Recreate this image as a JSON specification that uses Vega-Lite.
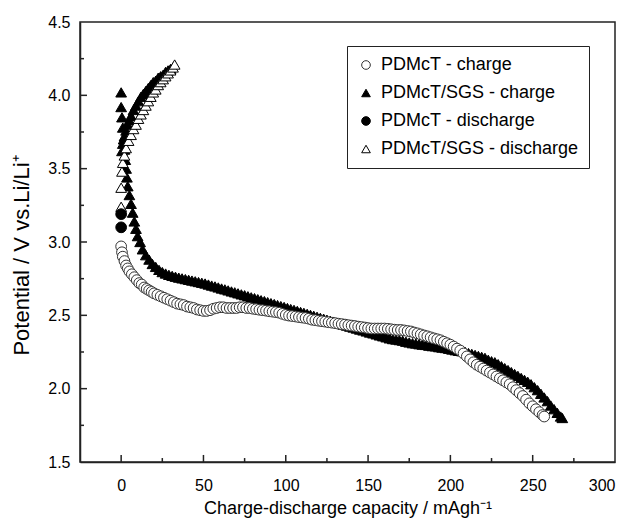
{
  "$schema": "https://vega.github.io/schema/vega-lite/v6.json",
  "width": 535,
  "height": 440,
  "autosize": {"type": "none"},
  "padding": {"left": 80, "top": 22, "right": 19, "bottom": 57},
  "background": "white",
  "config": {
    "font": "Liberation Sans",
    "view": {"stroke": "#222222", "strokeWidth": 1.5},
    "axis": {
      "domainColor": "#222222",
      "domainWidth": 1.5,
      "grid": false,
      "labelFont": "Liberation Sans",
      "labelFontSize": 16,
      "labelColor": "black",
      "titleFont": "Liberation Sans",
      "titleFontSize": 18,
      "titleFontWeight": "normal",
      "titleColor": "black"
    },
    "legend": {
      "labelFont": "Liberation Sans",
      "labelFontSize": 18,
      "labelColor": "black",
      "labelLimit": 0
    }
  },
  "datasets": {
    "curves": [
      {"series": "PDMcT/SGS - charge", "capacity": 0, "potential": 4.02},
      {"series": "PDMcT/SGS - charge", "capacity": 0, "potential": 3.92},
      {"series": "PDMcT/SGS - charge", "capacity": 0.5, "potential": 3.85},
      {"series": "PDMcT/SGS - charge", "capacity": 1, "potential": 3.78},
      {"series": "PDMcT/SGS - charge", "capacity": 1.5, "potential": 3.7},
      {"series": "PDMcT/SGS - charge", "capacity": 2, "potential": 3.63},
      {"series": "PDMcT/SGS - charge", "capacity": 2.5, "potential": 3.56},
      {"series": "PDMcT/SGS - charge", "capacity": 3, "potential": 3.5},
      {"series": "PDMcT/SGS - charge", "capacity": 3.5, "potential": 3.44},
      {"series": "PDMcT/SGS - charge", "capacity": 4, "potential": 3.38},
      {"series": "PDMcT/SGS - charge", "capacity": 5, "potential": 3.32},
      {"series": "PDMcT/SGS - charge", "capacity": 6, "potential": 3.26},
      {"series": "PDMcT/SGS - charge", "capacity": 7, "potential": 3.2},
      {"series": "PDMcT/SGS - charge", "capacity": 8, "potential": 3.14},
      {"series": "PDMcT/SGS - charge", "capacity": 9, "potential": 3.09},
      {"series": "PDMcT/SGS - charge", "capacity": 10, "potential": 3.04},
      {"series": "PDMcT/SGS - charge", "capacity": 11.5, "potential": 3.0},
      {"series": "PDMcT/SGS - charge", "capacity": 13, "potential": 2.95},
      {"series": "PDMcT/SGS - charge", "capacity": 15, "potential": 2.91},
      {"series": "PDMcT/SGS - charge", "capacity": 17, "potential": 2.88},
      {"series": "PDMcT/SGS - charge", "capacity": 19, "potential": 2.85},
      {"series": "PDMcT/SGS - charge", "capacity": 21, "potential": 2.83},
      {"series": "PDMcT/SGS - charge", "capacity": 23, "potential": 2.81},
      {"series": "PDMcT/SGS - charge", "capacity": 25, "potential": 2.795},
      {"series": "PDMcT/SGS - charge", "capacity": 27, "potential": 2.785},
      {"series": "PDMcT/SGS - charge", "capacity": 29, "potential": 2.776},
      {"series": "PDMcT/SGS - charge", "capacity": 31, "potential": 2.769},
      {"series": "PDMcT/SGS - charge", "capacity": 33, "potential": 2.763},
      {"series": "PDMcT/SGS - charge", "capacity": 35, "potential": 2.757},
      {"series": "PDMcT/SGS - charge", "capacity": 37, "potential": 2.752},
      {"series": "PDMcT/SGS - charge", "capacity": 39, "potential": 2.747},
      {"series": "PDMcT/SGS - charge", "capacity": 41, "potential": 2.742},
      {"series": "PDMcT/SGS - charge", "capacity": 43, "potential": 2.737},
      {"series": "PDMcT/SGS - charge", "capacity": 45, "potential": 2.732},
      {"series": "PDMcT/SGS - charge", "capacity": 47, "potential": 2.727},
      {"series": "PDMcT/SGS - charge", "capacity": 49, "potential": 2.722},
      {"series": "PDMcT/SGS - charge", "capacity": 51, "potential": 2.717},
      {"series": "PDMcT/SGS - charge", "capacity": 53, "potential": 2.71},
      {"series": "PDMcT/SGS - charge", "capacity": 55, "potential": 2.703},
      {"series": "PDMcT/SGS - charge", "capacity": 57, "potential": 2.697},
      {"series": "PDMcT/SGS - charge", "capacity": 59, "potential": 2.69},
      {"series": "PDMcT/SGS - charge", "capacity": 61, "potential": 2.683},
      {"series": "PDMcT/SGS - charge", "capacity": 63, "potential": 2.677},
      {"series": "PDMcT/SGS - charge", "capacity": 65, "potential": 2.67},
      {"series": "PDMcT/SGS - charge", "capacity": 67, "potential": 2.663},
      {"series": "PDMcT/SGS - charge", "capacity": 69, "potential": 2.657},
      {"series": "PDMcT/SGS - charge", "capacity": 71, "potential": 2.65},
      {"series": "PDMcT/SGS - charge", "capacity": 73, "potential": 2.643},
      {"series": "PDMcT/SGS - charge", "capacity": 75, "potential": 2.637},
      {"series": "PDMcT/SGS - charge", "capacity": 77, "potential": 2.63},
      {"series": "PDMcT/SGS - charge", "capacity": 79, "potential": 2.623},
      {"series": "PDMcT/SGS - charge", "capacity": 81, "potential": 2.617},
      {"series": "PDMcT/SGS - charge", "capacity": 83, "potential": 2.61},
      {"series": "PDMcT/SGS - charge", "capacity": 85, "potential": 2.603},
      {"series": "PDMcT/SGS - charge", "capacity": 87, "potential": 2.597},
      {"series": "PDMcT/SGS - charge", "capacity": 89, "potential": 2.59},
      {"series": "PDMcT/SGS - charge", "capacity": 91, "potential": 2.583},
      {"series": "PDMcT/SGS - charge", "capacity": 93, "potential": 2.577},
      {"series": "PDMcT/SGS - charge", "capacity": 95, "potential": 2.57},
      {"series": "PDMcT/SGS - charge", "capacity": 97, "potential": 2.563},
      {"series": "PDMcT/SGS - charge", "capacity": 99, "potential": 2.557},
      {"series": "PDMcT/SGS - charge", "capacity": 101, "potential": 2.55},
      {"series": "PDMcT/SGS - charge", "capacity": 103, "potential": 2.543},
      {"series": "PDMcT/SGS - charge", "capacity": 105, "potential": 2.537},
      {"series": "PDMcT/SGS - charge", "capacity": 107, "potential": 2.53},
      {"series": "PDMcT/SGS - charge", "capacity": 109, "potential": 2.523},
      {"series": "PDMcT/SGS - charge", "capacity": 111, "potential": 2.517},
      {"series": "PDMcT/SGS - charge", "capacity": 113, "potential": 2.51},
      {"series": "PDMcT/SGS - charge", "capacity": 115, "potential": 2.503},
      {"series": "PDMcT/SGS - charge", "capacity": 117, "potential": 2.497},
      {"series": "PDMcT/SGS - charge", "capacity": 119, "potential": 2.49},
      {"series": "PDMcT/SGS - charge", "capacity": 121, "potential": 2.483},
      {"series": "PDMcT/SGS - charge", "capacity": 123, "potential": 2.477},
      {"series": "PDMcT/SGS - charge", "capacity": 125, "potential": 2.47},
      {"series": "PDMcT/SGS - charge", "capacity": 127, "potential": 2.463},
      {"series": "PDMcT/SGS - charge", "capacity": 129, "potential": 2.457},
      {"series": "PDMcT/SGS - charge", "capacity": 131, "potential": 2.45},
      {"series": "PDMcT/SGS - charge", "capacity": 133, "potential": 2.443},
      {"series": "PDMcT/SGS - charge", "capacity": 135, "potential": 2.437},
      {"series": "PDMcT/SGS - charge", "capacity": 137, "potential": 2.43},
      {"series": "PDMcT/SGS - charge", "capacity": 139, "potential": 2.423},
      {"series": "PDMcT/SGS - charge", "capacity": 141, "potential": 2.417},
      {"series": "PDMcT/SGS - charge", "capacity": 143, "potential": 2.41},
      {"series": "PDMcT/SGS - charge", "capacity": 145, "potential": 2.403},
      {"series": "PDMcT/SGS - charge", "capacity": 147, "potential": 2.397},
      {"series": "PDMcT/SGS - charge", "capacity": 149, "potential": 2.39},
      {"series": "PDMcT/SGS - charge", "capacity": 151, "potential": 2.383},
      {"series": "PDMcT/SGS - charge", "capacity": 153, "potential": 2.377},
      {"series": "PDMcT/SGS - charge", "capacity": 155, "potential": 2.37},
      {"series": "PDMcT/SGS - charge", "capacity": 157, "potential": 2.363},
      {"series": "PDMcT/SGS - charge", "capacity": 159, "potential": 2.357},
      {"series": "PDMcT/SGS - charge", "capacity": 161, "potential": 2.35},
      {"series": "PDMcT/SGS - charge", "capacity": 163, "potential": 2.343},
      {"series": "PDMcT/SGS - charge", "capacity": 165, "potential": 2.338},
      {"series": "PDMcT/SGS - charge", "capacity": 167, "potential": 2.335},
      {"series": "PDMcT/SGS - charge", "capacity": 169, "potential": 2.331},
      {"series": "PDMcT/SGS - charge", "capacity": 171, "potential": 2.327},
      {"series": "PDMcT/SGS - charge", "capacity": 173, "potential": 2.32},
      {"series": "PDMcT/SGS - charge", "capacity": 175, "potential": 2.315},
      {"series": "PDMcT/SGS - charge", "capacity": 177, "potential": 2.31},
      {"series": "PDMcT/SGS - charge", "capacity": 179, "potential": 2.308},
      {"series": "PDMcT/SGS - charge", "capacity": 181, "potential": 2.303},
      {"series": "PDMcT/SGS - charge", "capacity": 183, "potential": 2.3},
      {"series": "PDMcT/SGS - charge", "capacity": 185, "potential": 2.298},
      {"series": "PDMcT/SGS - charge", "capacity": 187, "potential": 2.293},
      {"series": "PDMcT/SGS - charge", "capacity": 189, "potential": 2.29},
      {"series": "PDMcT/SGS - charge", "capacity": 191, "potential": 2.288},
      {"series": "PDMcT/SGS - charge", "capacity": 193, "potential": 2.283},
      {"series": "PDMcT/SGS - charge", "capacity": 195, "potential": 2.28},
      {"series": "PDMcT/SGS - charge", "capacity": 197, "potential": 2.277},
      {"series": "PDMcT/SGS - charge", "capacity": 199, "potential": 2.272},
      {"series": "PDMcT/SGS - charge", "capacity": 201, "potential": 2.267},
      {"series": "PDMcT/SGS - charge", "capacity": 203, "potential": 2.262},
      {"series": "PDMcT/SGS - charge", "capacity": 205, "potential": 2.258},
      {"series": "PDMcT/SGS - charge", "capacity": 207, "potential": 2.255},
      {"series": "PDMcT/SGS - charge", "capacity": 209, "potential": 2.25},
      {"series": "PDMcT/SGS - charge", "capacity": 211, "potential": 2.243},
      {"series": "PDMcT/SGS - charge", "capacity": 213, "potential": 2.237},
      {"series": "PDMcT/SGS - charge", "capacity": 215, "potential": 2.23},
      {"series": "PDMcT/SGS - charge", "capacity": 217, "potential": 2.223},
      {"series": "PDMcT/SGS - charge", "capacity": 219, "potential": 2.217},
      {"series": "PDMcT/SGS - charge", "capacity": 221, "potential": 2.21},
      {"series": "PDMcT/SGS - charge", "capacity": 223, "potential": 2.197},
      {"series": "PDMcT/SGS - charge", "capacity": 225, "potential": 2.187},
      {"series": "PDMcT/SGS - charge", "capacity": 227, "potential": 2.18},
      {"series": "PDMcT/SGS - charge", "capacity": 229, "potential": 2.167},
      {"series": "PDMcT/SGS - charge", "capacity": 231, "potential": 2.153},
      {"series": "PDMcT/SGS - charge", "capacity": 233, "potential": 2.14},
      {"series": "PDMcT/SGS - charge", "capacity": 235, "potential": 2.127},
      {"series": "PDMcT/SGS - charge", "capacity": 237, "potential": 2.113},
      {"series": "PDMcT/SGS - charge", "capacity": 239, "potential": 2.1},
      {"series": "PDMcT/SGS - charge", "capacity": 241, "potential": 2.087},
      {"series": "PDMcT/SGS - charge", "capacity": 243, "potential": 2.073},
      {"series": "PDMcT/SGS - charge", "capacity": 245, "potential": 2.06},
      {"series": "PDMcT/SGS - charge", "capacity": 247, "potential": 2.047},
      {"series": "PDMcT/SGS - charge", "capacity": 249, "potential": 2.03},
      {"series": "PDMcT/SGS - charge", "capacity": 251, "potential": 2.01},
      {"series": "PDMcT/SGS - charge", "capacity": 253, "potential": 1.99},
      {"series": "PDMcT/SGS - charge", "capacity": 255, "potential": 1.965},
      {"series": "PDMcT/SGS - charge", "capacity": 257, "potential": 1.94},
      {"series": "PDMcT/SGS - charge", "capacity": 259, "potential": 1.915},
      {"series": "PDMcT/SGS - charge", "capacity": 261, "potential": 1.885},
      {"series": "PDMcT/SGS - charge", "capacity": 263, "potential": 1.86},
      {"series": "PDMcT/SGS - charge", "capacity": 265, "potential": 1.835},
      {"series": "PDMcT/SGS - charge", "capacity": 267, "potential": 1.81},
      {"series": "PDMcT/SGS - charge", "capacity": 268, "potential": 1.8},
      {"series": "PDMcT/SGS - charge", "capacity": 0.5, "potential": 3.62},
      {"series": "PDMcT/SGS - charge", "capacity": 1, "potential": 3.67},
      {"series": "PDMcT/SGS - charge", "capacity": 2, "potential": 3.72},
      {"series": "PDMcT/SGS - charge", "capacity": 3, "potential": 3.76},
      {"series": "PDMcT/SGS - charge", "capacity": 4, "potential": 3.8},
      {"series": "PDMcT/SGS - charge", "capacity": 5, "potential": 3.83},
      {"series": "PDMcT/SGS - charge", "capacity": 6, "potential": 3.86},
      {"series": "PDMcT/SGS - charge", "capacity": 7.5, "potential": 3.9},
      {"series": "PDMcT/SGS - charge", "capacity": 9, "potential": 3.93},
      {"series": "PDMcT/SGS - charge", "capacity": 10.5, "potential": 3.96},
      {"series": "PDMcT/SGS - charge", "capacity": 12, "potential": 3.99},
      {"series": "PDMcT/SGS - charge", "capacity": 13.5, "potential": 4.01},
      {"series": "PDMcT/SGS - charge", "capacity": 15, "potential": 4.03},
      {"series": "PDMcT/SGS - charge", "capacity": 16.5, "potential": 4.05},
      {"series": "PDMcT/SGS - charge", "capacity": 18, "potential": 4.07},
      {"series": "PDMcT/SGS - charge", "capacity": 19.5, "potential": 4.09},
      {"series": "PDMcT/SGS - charge", "capacity": 21, "potential": 4.1},
      {"series": "PDMcT/SGS - charge", "capacity": 22.5, "potential": 4.12},
      {"series": "PDMcT/SGS - charge", "capacity": 24, "potential": 4.13},
      {"series": "PDMcT/SGS - charge", "capacity": 25.5, "potential": 4.14},
      {"series": "PDMcT/SGS - charge", "capacity": 27, "potential": 4.16},
      {"series": "PDMcT/SGS - charge", "capacity": 28.5, "potential": 4.17},
      {"series": "PDMcT/SGS - charge", "capacity": 30, "potential": 4.18},
      {"series": "PDMcT/SGS - discharge", "capacity": 0, "potential": 3.24},
      {"series": "PDMcT/SGS - discharge", "capacity": 0, "potential": 3.37},
      {"series": "PDMcT/SGS - discharge", "capacity": 0.5, "potential": 3.48},
      {"series": "PDMcT/SGS - discharge", "capacity": 1, "potential": 3.54},
      {"series": "PDMcT/SGS - discharge", "capacity": 2, "potential": 3.59},
      {"series": "PDMcT/SGS - discharge", "capacity": 3, "potential": 3.64},
      {"series": "PDMcT/SGS - discharge", "capacity": 4.5, "potential": 3.69},
      {"series": "PDMcT/SGS - discharge", "capacity": 6, "potential": 3.73},
      {"series": "PDMcT/SGS - discharge", "capacity": 7.5, "potential": 3.77},
      {"series": "PDMcT/SGS - discharge", "capacity": 9, "potential": 3.8},
      {"series": "PDMcT/SGS - discharge", "capacity": 10.5, "potential": 3.84},
      {"series": "PDMcT/SGS - discharge", "capacity": 12, "potential": 3.87},
      {"series": "PDMcT/SGS - discharge", "capacity": 13.5, "potential": 3.9},
      {"series": "PDMcT/SGS - discharge", "capacity": 15, "potential": 3.93},
      {"series": "PDMcT/SGS - discharge", "capacity": 16.5, "potential": 3.96},
      {"series": "PDMcT/SGS - discharge", "capacity": 18, "potential": 3.99},
      {"series": "PDMcT/SGS - discharge", "capacity": 19.5, "potential": 4.02},
      {"series": "PDMcT/SGS - discharge", "capacity": 21, "potential": 4.04},
      {"series": "PDMcT/SGS - discharge", "capacity": 22.5, "potential": 4.07},
      {"series": "PDMcT/SGS - discharge", "capacity": 24, "potential": 4.09},
      {"series": "PDMcT/SGS - discharge", "capacity": 25.5, "potential": 4.11},
      {"series": "PDMcT/SGS - discharge", "capacity": 27, "potential": 4.13},
      {"series": "PDMcT/SGS - discharge", "capacity": 28.5, "potential": 4.15},
      {"series": "PDMcT/SGS - discharge", "capacity": 30, "potential": 4.17},
      {"series": "PDMcT/SGS - discharge", "capacity": 31.5, "potential": 4.19},
      {"series": "PDMcT/SGS - discharge", "capacity": 32.5, "potential": 4.21},
      {"series": "PDMcT - charge", "capacity": 0, "potential": 2.97},
      {"series": "PDMcT - charge", "capacity": 0.5, "potential": 2.93},
      {"series": "PDMcT - charge", "capacity": 1, "potential": 2.9},
      {"series": "PDMcT - charge", "capacity": 2, "potential": 2.87},
      {"series": "PDMcT - charge", "capacity": 3, "potential": 2.84},
      {"series": "PDMcT - charge", "capacity": 4, "potential": 2.82},
      {"series": "PDMcT - charge", "capacity": 5, "potential": 2.8},
      {"series": "PDMcT - charge", "capacity": 6.5, "potential": 2.78},
      {"series": "PDMcT - charge", "capacity": 8, "potential": 2.76},
      {"series": "PDMcT - charge", "capacity": 9.5, "potential": 2.74},
      {"series": "PDMcT - charge", "capacity": 11, "potential": 2.72},
      {"series": "PDMcT - charge", "capacity": 12.5, "potential": 2.71},
      {"series": "PDMcT - charge", "capacity": 14, "potential": 2.69},
      {"series": "PDMcT - charge", "capacity": 15.5, "potential": 2.68},
      {"series": "PDMcT - charge", "capacity": 17, "potential": 2.67},
      {"series": "PDMcT - charge", "capacity": 18.5, "potential": 2.66},
      {"series": "PDMcT - charge", "capacity": 20, "potential": 2.65},
      {"series": "PDMcT - charge", "capacity": 22, "potential": 2.64},
      {"series": "PDMcT - charge", "capacity": 24, "potential": 2.63},
      {"series": "PDMcT - charge", "capacity": 26, "potential": 2.62},
      {"series": "PDMcT - charge", "capacity": 28, "potential": 2.61},
      {"series": "PDMcT - charge", "capacity": 30, "potential": 2.6},
      {"series": "PDMcT - charge", "capacity": 32, "potential": 2.59},
      {"series": "PDMcT - charge", "capacity": 34, "potential": 2.58},
      {"series": "PDMcT - charge", "capacity": 36, "potential": 2.575},
      {"series": "PDMcT - charge", "capacity": 38, "potential": 2.57},
      {"series": "PDMcT - charge", "capacity": 40, "potential": 2.56},
      {"series": "PDMcT - charge", "capacity": 42, "potential": 2.555},
      {"series": "PDMcT - charge", "capacity": 44, "potential": 2.55},
      {"series": "PDMcT - charge", "capacity": 46, "potential": 2.54},
      {"series": "PDMcT - charge", "capacity": 48, "potential": 2.535},
      {"series": "PDMcT - charge", "capacity": 50, "potential": 2.53},
      {"series": "PDMcT - charge", "capacity": 52, "potential": 2.53},
      {"series": "PDMcT - charge", "capacity": 54, "potential": 2.535},
      {"series": "PDMcT - charge", "capacity": 56, "potential": 2.545},
      {"series": "PDMcT - charge", "capacity": 58, "potential": 2.55},
      {"series": "PDMcT - charge", "capacity": 60, "potential": 2.555},
      {"series": "PDMcT - charge", "capacity": 62, "potential": 2.555},
      {"series": "PDMcT - charge", "capacity": 64, "potential": 2.55},
      {"series": "PDMcT - charge", "capacity": 66, "potential": 2.55},
      {"series": "PDMcT - charge", "capacity": 68, "potential": 2.55},
      {"series": "PDMcT - charge", "capacity": 70, "potential": 2.55},
      {"series": "PDMcT - charge", "capacity": 72, "potential": 2.555},
      {"series": "PDMcT - charge", "capacity": 74, "potential": 2.555},
      {"series": "PDMcT - charge", "capacity": 76, "potential": 2.55},
      {"series": "PDMcT - charge", "capacity": 78, "potential": 2.55},
      {"series": "PDMcT - charge", "capacity": 80, "potential": 2.545},
      {"series": "PDMcT - charge", "capacity": 82, "potential": 2.542},
      {"series": "PDMcT - charge", "capacity": 84, "potential": 2.538},
      {"series": "PDMcT - charge", "capacity": 86, "potential": 2.535},
      {"series": "PDMcT - charge", "capacity": 88, "potential": 2.532},
      {"series": "PDMcT - charge", "capacity": 90, "potential": 2.528},
      {"series": "PDMcT - charge", "capacity": 92, "potential": 2.525},
      {"series": "PDMcT - charge", "capacity": 94, "potential": 2.522},
      {"series": "PDMcT - charge", "capacity": 96, "potential": 2.518},
      {"series": "PDMcT - charge", "capacity": 98, "potential": 2.51},
      {"series": "PDMcT - charge", "capacity": 100, "potential": 2.503},
      {"series": "PDMcT - charge", "capacity": 102, "potential": 2.498},
      {"series": "PDMcT - charge", "capacity": 104, "potential": 2.495},
      {"series": "PDMcT - charge", "capacity": 106, "potential": 2.492},
      {"series": "PDMcT - charge", "capacity": 108, "potential": 2.488},
      {"series": "PDMcT - charge", "capacity": 110, "potential": 2.485},
      {"series": "PDMcT - charge", "capacity": 112, "potential": 2.482},
      {"series": "PDMcT - charge", "capacity": 114, "potential": 2.477},
      {"series": "PDMcT - charge", "capacity": 116, "potential": 2.47},
      {"series": "PDMcT - charge", "capacity": 118, "potential": 2.467},
      {"series": "PDMcT - charge", "capacity": 120, "potential": 2.463},
      {"series": "PDMcT - charge", "capacity": 122, "potential": 2.46},
      {"series": "PDMcT - charge", "capacity": 124, "potential": 2.457},
      {"series": "PDMcT - charge", "capacity": 126, "potential": 2.453},
      {"series": "PDMcT - charge", "capacity": 128, "potential": 2.45},
      {"series": "PDMcT - charge", "capacity": 130, "potential": 2.447},
      {"series": "PDMcT - charge", "capacity": 132, "potential": 2.443},
      {"series": "PDMcT - charge", "capacity": 134, "potential": 2.44},
      {"series": "PDMcT - charge", "capacity": 136, "potential": 2.437},
      {"series": "PDMcT - charge", "capacity": 138, "potential": 2.433},
      {"series": "PDMcT - charge", "capacity": 140, "potential": 2.43},
      {"series": "PDMcT - charge", "capacity": 142, "potential": 2.427},
      {"series": "PDMcT - charge", "capacity": 144, "potential": 2.423},
      {"series": "PDMcT - charge", "capacity": 146, "potential": 2.42},
      {"series": "PDMcT - charge", "capacity": 148, "potential": 2.417},
      {"series": "PDMcT - charge", "capacity": 150, "potential": 2.413},
      {"series": "PDMcT - charge", "capacity": 152, "potential": 2.41},
      {"series": "PDMcT - charge", "capacity": 154, "potential": 2.41},
      {"series": "PDMcT - charge", "capacity": 156, "potential": 2.41},
      {"series": "PDMcT - charge", "capacity": 158, "potential": 2.41},
      {"series": "PDMcT - charge", "capacity": 160, "potential": 2.41},
      {"series": "PDMcT - charge", "capacity": 162, "potential": 2.408},
      {"series": "PDMcT - charge", "capacity": 164, "potential": 2.405},
      {"series": "PDMcT - charge", "capacity": 166, "potential": 2.402},
      {"series": "PDMcT - charge", "capacity": 168, "potential": 2.4},
      {"series": "PDMcT - charge", "capacity": 170, "potential": 2.4},
      {"series": "PDMcT - charge", "capacity": 172, "potential": 2.397},
      {"series": "PDMcT - charge", "capacity": 174, "potential": 2.393},
      {"series": "PDMcT - charge", "capacity": 176, "potential": 2.39},
      {"series": "PDMcT - charge", "capacity": 178, "potential": 2.383},
      {"series": "PDMcT - charge", "capacity": 180, "potential": 2.377},
      {"series": "PDMcT - charge", "capacity": 182, "potential": 2.37},
      {"series": "PDMcT - charge", "capacity": 184, "potential": 2.363},
      {"series": "PDMcT - charge", "capacity": 186, "potential": 2.357},
      {"series": "PDMcT - charge", "capacity": 188, "potential": 2.35},
      {"series": "PDMcT - charge", "capacity": 190, "potential": 2.343},
      {"series": "PDMcT - charge", "capacity": 192, "potential": 2.337},
      {"series": "PDMcT - charge", "capacity": 194, "potential": 2.33},
      {"series": "PDMcT - charge", "capacity": 196, "potential": 2.32},
      {"series": "PDMcT - charge", "capacity": 198, "potential": 2.31},
      {"series": "PDMcT - charge", "capacity": 200, "potential": 2.3},
      {"series": "PDMcT - charge", "capacity": 202, "potential": 2.287},
      {"series": "PDMcT - charge", "capacity": 204, "potential": 2.273},
      {"series": "PDMcT - charge", "capacity": 206, "potential": 2.26},
      {"series": "PDMcT - charge", "capacity": 208, "potential": 2.24},
      {"series": "PDMcT - charge", "capacity": 210, "potential": 2.22},
      {"series": "PDMcT - charge", "capacity": 212, "potential": 2.2},
      {"series": "PDMcT - charge", "capacity": 214, "potential": 2.18},
      {"series": "PDMcT - charge", "capacity": 216, "potential": 2.163},
      {"series": "PDMcT - charge", "capacity": 218, "potential": 2.15},
      {"series": "PDMcT - charge", "capacity": 220, "potential": 2.137},
      {"series": "PDMcT - charge", "capacity": 222, "potential": 2.123},
      {"series": "PDMcT - charge", "capacity": 224, "potential": 2.11},
      {"series": "PDMcT - charge", "capacity": 226, "potential": 2.097},
      {"series": "PDMcT - charge", "capacity": 228, "potential": 2.083},
      {"series": "PDMcT - charge", "capacity": 230, "potential": 2.07},
      {"series": "PDMcT - charge", "capacity": 232, "potential": 2.057},
      {"series": "PDMcT - charge", "capacity": 234, "potential": 2.043},
      {"series": "PDMcT - charge", "capacity": 236, "potential": 2.03},
      {"series": "PDMcT - charge", "capacity": 238, "potential": 2.01},
      {"series": "PDMcT - charge", "capacity": 240, "potential": 1.99},
      {"series": "PDMcT - charge", "capacity": 242, "potential": 1.97},
      {"series": "PDMcT - charge", "capacity": 244, "potential": 1.95},
      {"series": "PDMcT - charge", "capacity": 246, "potential": 1.925},
      {"series": "PDMcT - charge", "capacity": 248, "potential": 1.9},
      {"series": "PDMcT - charge", "capacity": 250, "potential": 1.88},
      {"series": "PDMcT - charge", "capacity": 252, "potential": 1.86},
      {"series": "PDMcT - charge", "capacity": 254, "potential": 1.84},
      {"series": "PDMcT - charge", "capacity": 256, "potential": 1.82},
      {"series": "PDMcT - charge", "capacity": 257, "potential": 1.81},
      {"series": "PDMcT - discharge", "capacity": 0, "potential": 3.19},
      {"series": "PDMcT - discharge", "capacity": 0, "potential": 3.1}
    ],
    "xticks": [
      {"kind": "major", "capacity": 0},
      {"kind": "minor", "capacity": 25},
      {"kind": "major", "capacity": 50},
      {"kind": "minor", "capacity": 75},
      {"kind": "major", "capacity": 100},
      {"kind": "minor", "capacity": 125},
      {"kind": "major", "capacity": 150},
      {"kind": "minor", "capacity": 175},
      {"kind": "major", "capacity": 200},
      {"kind": "minor", "capacity": 225},
      {"kind": "major", "capacity": 250},
      {"kind": "minor", "capacity": 275}
    ],
    "yticks": [
      {"kind": "minor", "potential": 1.75},
      {"kind": "major", "potential": 2.0},
      {"kind": "minor", "potential": 2.25},
      {"kind": "major", "potential": 2.5},
      {"kind": "minor", "potential": 2.75},
      {"kind": "major", "potential": 3.0},
      {"kind": "minor", "potential": 3.25},
      {"kind": "major", "potential": 3.5},
      {"kind": "minor", "potential": 3.75},
      {"kind": "major", "potential": 4.0},
      {"kind": "minor", "potential": 4.25}
    ]
  },
  "layer": [
    {
      "data": {"name": "curves"},
      "mark": {"type": "point", "filled": true, "size": 115, "strokeWidth": 1, "opacity": 1},
      "encoding": {
        "x": {
          "field": "capacity",
          "type": "quantitative",
          "scale": {"domain": [-25, 300], "nice": false, "zero": false},
          "axis": {
            "orient": "bottom",
            "title": "Charge-discharge capacity / mAgh⁻¹",
            "values": [0, 50, 100, 150, 200, 250, 300],
            "ticks": false,
            "tickSize": 0,
            "labelPadding": 15,
            "labelOverlap": false,
            "titlePadding": 6
          }
        },
        "y": {
          "field": "potential",
          "type": "quantitative",
          "scale": {"domain": [1.5, 4.5], "nice": false, "zero": false},
          "axis": {
            "orient": "left",
            "title": "Potential / V vs.Li/Li⁺",
            "titleFontSize": 22,
            "titleY": 233,
            "values": [1.5, 2, 2.5, 3, 3.5, 4, 4.5],
            "format": ".1f",
            "ticks": false,
            "tickSize": 0,
            "labelPadding": 10,
            "labelOverlap": false,
            "titlePadding": 14
          }
        },
        "shape": {
          "field": "series",
          "type": "nominal",
          "scale": {
            "domain": ["PDMcT - charge", "PDMcT/SGS - charge", "PDMcT - discharge", "PDMcT/SGS - discharge"],
            "range": ["circle", "triangle-up", "circle", "triangle-up"]
          },
          "legend": {
            "title": null,
            "orient": "none",
            "legendX": 267,
            "legendY": 24,
            "strokeColor": "#222222",
            "fillColor": "white",
            "padding": 10,
            "rowPadding": 10,
            "labelOffset": 6,
            "symbolSize": 75,
            "symbolStrokeWidth": 1
          }
        },
        "fill": {
          "field": "series",
          "type": "nominal",
          "scale": {
            "domain": ["PDMcT - charge", "PDMcT/SGS - charge", "PDMcT - discharge", "PDMcT/SGS - discharge"],
            "range": ["white", "black", "black", "white"]
          }
        },
        "stroke": {
          "field": "series",
          "type": "nominal",
          "scale": {
            "domain": ["PDMcT - charge", "PDMcT/SGS - charge", "PDMcT - discharge", "PDMcT/SGS - discharge"],
            "range": ["#333333", "black", "black", "black"]
          }
        }
      }
    },
    {
      "data": {"name": "xticks"},
      "transform": [{"filter": "datum.kind === 'major'"}],
      "mark": {"type": "rule", "color": "#222222", "strokeWidth": 1.5},
      "encoding": {
        "x": {"field": "capacity", "type": "quantitative"},
        "y": {"datum": 1.5, "type": "quantitative"},
        "y2": {"datum": 1.548}
      }
    },
    {
      "data": {"name": "xticks"},
      "transform": [{"filter": "datum.kind === 'minor'"}],
      "mark": {"type": "rule", "color": "#222222", "strokeWidth": 1.5},
      "encoding": {
        "x": {"field": "capacity", "type": "quantitative"},
        "y": {"datum": 1.5, "type": "quantitative"},
        "y2": {"datum": 1.527}
      }
    },
    {
      "data": {"name": "yticks"},
      "transform": [{"filter": "datum.kind === 'major'"}],
      "mark": {"type": "rule", "color": "#222222", "strokeWidth": 1.5},
      "encoding": {
        "y": {"field": "potential", "type": "quantitative"},
        "x": {"datum": -25, "type": "quantitative"},
        "x2": {"datum": -20.75}
      }
    },
    {
      "data": {"name": "yticks"},
      "transform": [{"filter": "datum.kind === 'minor'"}],
      "mark": {"type": "rule", "color": "#222222", "strokeWidth": 1.5},
      "encoding": {
        "y": {"field": "potential", "type": "quantitative"},
        "x": {"datum": -25, "type": "quantitative"},
        "x2": {"datum": -22.57}
      }
    }
  ]
}
